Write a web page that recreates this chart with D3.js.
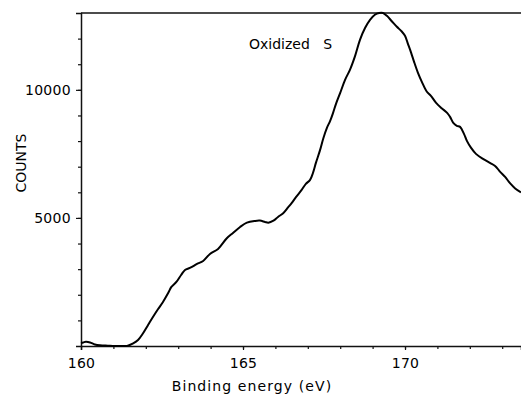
<!DOCTYPE html>
<html>
<head>
<meta charset="utf-8">
<script src="https://cdn.jsdelivr.net/npm/d3@7"></script>
<style>
  body { margin: 0; background: #fff; }
  svg { display: block; }
  text { font-family: "DejaVu Sans", sans-serif; font-size: 14px; fill: #000; }
</style>
</head>
<body>
<div id="chart"></div>
<script>
// binding energy (eV) and counts
const energy = [160.00, 160.07, 160.15, 160.28, 160.43, 160.59, 160.83, 161.05, 161.27, 161.42,
  161.61, 161.76, 161.91, 162.07, 162.22, 162.38, 162.53, 162.69, 162.79, 162.95,
  163.09, 163.21, 163.36, 163.58, 163.77, 163.98, 164.23, 164.50, 164.69, 164.91,
  165.12, 165.37, 165.52, 165.68, 165.78, 165.94, 166.08, 166.24, 166.39, 166.50,
  166.64, 166.81, 166.94, 167.07, 167.16, 167.25, 167.38, 167.48, 167.59, 167.69,
  167.78, 167.87, 168.00, 168.15, 168.30, 168.46, 168.61, 168.77, 168.92, 169.07,
  169.20, 169.32, 169.44, 169.60, 169.75, 169.90, 170.00, 170.09, 170.19, 170.28,
  170.40, 170.52, 170.67, 170.80, 170.96, 171.13, 171.30, 171.39, 171.49, 171.60,
  171.70, 171.82, 171.91, 172.04, 172.19, 172.42, 172.62, 172.78, 172.93, 173.09,
  173.24, 173.40, 173.58];
const counts = [120, 140, 165, 140, 60, 27, 12, 0, 0, 5,
  105, 234, 488, 820, 1133, 1445, 1719, 2070, 2305, 2512,
  2773, 2969, 3047, 3203, 3320, 3594, 3789, 4207, 4414, 4648,
  4816, 4883, 4895, 4844, 4816, 4895, 5039, 5184, 5410, 5574,
  5820, 6094, 6328, 6484, 6758, 7148, 7656, 8113, 8516, 8789,
  9102, 9453, 9883, 10391, 10781, 11328, 11953, 12422, 12734, 12930,
  13000, 13000, 12891, 12668, 12461, 12277, 12109, 11797, 11445, 11094,
  10664, 10313, 9934, 9766, 9492, 9285, 9102, 8945, 8711, 8594,
  8555, 8281, 8008, 7734, 7500, 7293, 7148, 7031, 6809, 6602,
  6355, 6152, 6000];
const xTicks = [160, 165, 170];
const yTicks = [5000, 10000];

const width = 521, height = 395;
const margin = {top: 13, right: 0, bottom: 49, left: 81};

const x = d3.scaleLinear().domain([160, 173.58]).range([margin.left, width - margin.right]);
const y = d3.scaleLinear().domain([0, 13000]).range([height - margin.bottom, margin.top]);

const svg = d3.select("#chart").append("svg")
    .attr("width", width).attr("height", height);

// minor ticks
svg.append("g").attr("transform", "translate(0," + y(0) + ")")
    .call(d3.axisBottom(x).tickValues(d3.range(161, 174, 1)).tickSize(3).tickFormat(""))
    .call(g => g.select(".domain").remove());
svg.append("g").attr("transform", "translate(" + x(160) + ",0)")
    .call(d3.axisLeft(y).tickValues(d3.range(1000, 13000, 1000)).tickSize(3).tickFormat(""))
    .call(g => g.select(".domain").remove());

// major axes
let xAxis = svg.append("g").attr("transform", "translate(0," + y(0) + ")")
    .call(d3.axisBottom(x).tickValues(xTicks).tickSize(4).tickPadding(8).tickFormat(d3.format("d")));
let yAxis = svg.append("g").attr("transform", "translate(" + x(160) + ",0)")
    .call(d3.axisLeft(y).tickValues(yTicks).tickSize(5).tickPadding(5).tickFormat(d3.format("d")));

[xAxis, yAxis].forEach(g => {
    g.select(".domain").attr("stroke", "#111").attr("stroke-width", 1.5);
    g.selectAll("text").style("font-family", '"DejaVu Sans", sans-serif').style("font-size", "14px")
        .style("letter-spacing", "0.3px").attr("fill", "#000");
});
svg.selectAll(".tick line").attr("stroke", "#111").attr("stroke-width", 1.2);

// top frame line
svg.append("line")
    .attr("x1", x(160)).attr("x2", width)
    .attr("y1", y(13000)).attr("y2", y(13000))
    .attr("stroke", "#111").attr("stroke-width", 1.5);

// spectrum
const line = d3.line()
    .x((d, i) => x(energy[i]))
    .y(d => y(d))
    .curve(d3.curveCatmullRom);

svg.append("path").datum(counts)
    .attr("d", line)
    .attr("fill", "none")
    .attr("stroke", "#000")
    .attr("stroke-width", 2);

// labels
svg.append("text")
    .attr("x", 249).attr("y", 49)
    .style("white-space", "pre")
    .text("Oxidized   S");

svg.append("text")
    .attr("x", 252).attr("y", 391)
    .attr("text-anchor", "middle")
    .style("letter-spacing", "1.1px")
    .text("Binding energy (eV)");

svg.append("text")
    .attr("transform", "translate(26,163) rotate(-90)")
    .attr("text-anchor", "middle")
    .text("COUNTS");
</script>
</body>
</html>
